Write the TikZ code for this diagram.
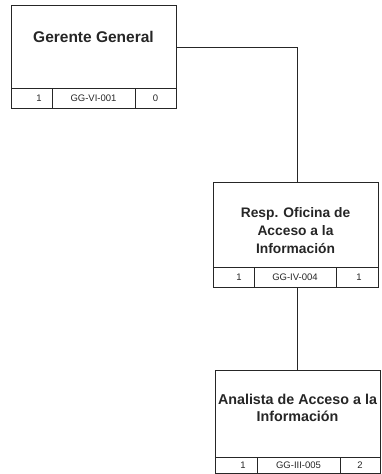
\documentclass[tikz,border=0pt]{standalone}
\usepackage{fontspec}
\setmainfont{Liberation Sans}
\begin{document}
\begin{tikzpicture}[x=1pt,y=-1pt,
  boxline/.style={line width=1pt,draw=black!85},
  conn/.style={line width=0.8pt,draw=black!85},
  title/.style={align=center,text=black!85},
  cell/.style={font=\fontsize{9.5}{11}\selectfont,text=black!85}]
\useasboundingbox (0,0) rectangle (381,474);
% Box 1
\draw[boxline] (11,5) rectangle (176,108);
\draw[boxline] (11,88) -- (176,88) (52,88) -- (52,108) (135,88) -- (135,108);
\node[title,font=\fontsize{15.5}{18}\bfseries] (t1) at (93.5,37) {Gerente General};
\node[cell] (c11) at (39,98) {1};
\node[cell] (c12) at (93.5,98) {GG-VI-001};
\node[cell] (c13) at (155.5,98) {0};
\coordinate (b1r) at (176,47);
% Box 2
\draw[boxline] (213,182) rectangle (378,287);
\draw[boxline] (213,267) -- (378,267) (254,267) -- (254,287) (336,267) -- (336,287);
\node[title,font=\fontsize{13.8}{18}\bfseries] (t2) at (295.5,231) {Resp. Oficina de\\Acceso a la\\Información};
\node[cell] (c21) at (239,277.5) {1};
\node[cell] (c22) at (295,277.5) {GG-IV-004};
\node[cell] (c23) at (359,277.5) {1};
\coordinate (b2t) at (297,182);
\coordinate (b2b) at (297,287);
% Box 3
\draw[boxline] (215,370) rectangle (380,473);
\draw[boxline] (215,457) -- (380,457) (257,457) -- (257,473) (340,457) -- (340,473);
\node[title,font=\fontsize{14.3}{17.5}\bfseries] (t3) at (297.5,408) {Analista de Acceso a la\\Información};
\node[cell] (c31) at (243,465) {1};
\node[cell] (c32) at (298.5,465) {GG-III-005};
\node[cell] (c33) at (360,465) {2};
\coordinate (b3t) at (297,370);
% connectors
\draw[conn] (b1r) -| (b2t);
\draw[conn] (b2b) -- (b3t);
\end{tikzpicture}
\end{document}
